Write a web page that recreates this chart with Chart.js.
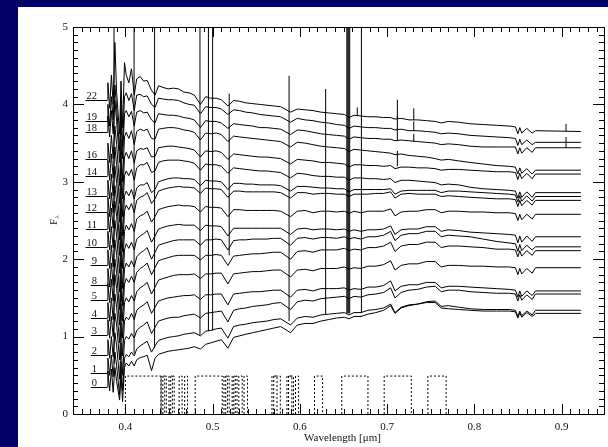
<!DOCTYPE html>
<html><head><meta charset="utf-8">
<script src="https://cdn.jsdelivr.net/npm/chart.js@4.4.0/dist/chart.umd.min.js"></script>
<style>html,body{margin:0;padding:0;background:#000066;overflow:hidden}#wrap{width:608px;height:447px}</style>
</head><body><div id="wrap"><canvas id="c" width="608" height="447"></canvas></div>
<script>
// ---- data (wavelength in micron, flux F_lambda with offsets as plotted) ----
const wavelength = [
0.3795,0.3800,0.382,0.384,0.386,0.388,0.390,0.3934,0.395,0.3968,
0.399,0.401,0.404,0.407,0.4102,0.413,0.417,0.421,0.425,0.430,
0.434,0.438,0.443,0.449,0.455,0.461,0.467,0.473,0.479,0.4861,
0.492,0.498,0.504,0.510,0.5175,0.524,0.531,0.538,0.546,0.554,
0.562,0.570,0.578,0.5893,0.597,0.606,0.615,0.624,0.633,0.642,
0.651,0.6563,0.662,0.670,0.678,0.687,0.696,0.704,0.709,0.716,
0.725,0.735,0.745,0.755,0.762,0.770,0.782,0.795,0.810,0.825,
0.840,0.847,0.8498,0.852,0.8542,0.860,0.8662,0.870,0.922];

const spectrumLabels = ['22','19','18','16','14','13','12','11','10','9','8','5','4','3','2','1','0'];
const labelLevels = [4.06,3.78,3.64,3.29,3.08,2.82,2.61,2.39,2.16,1.92,1.67,1.47,1.24,1.02,0.76,0.53,0.35];

const flux22 = [4.06,4.28,3.95,4.38,4.00,4.80,4.15,3.62,4.30,3.70,
4.54,4.38,4.28,4.46,4.12,4.33,4.36,4.30,4.31,4.18,
4.12,4.24,4.22,4.20,4.21,4.20,4.16,4.15,4.12,4.00,
4.10,4.08,4.08,4.06,3.98,4.05,4.04,4.02,4.01,4.00,
3.99,3.98,3.97,3.90,3.94,3.93,3.92,3.90,3.89,3.88,
3.87,3.83,3.86,3.85,3.84,3.84,3.83,3.83,3.81,3.82,
3.80,3.80,3.79,3.78,3.76,3.78,3.77,3.75,3.74,3.73,
3.72,3.71,3.62,3.70,3.63,3.69,3.63,3.66,3.65];
const flux19 = [3.78,4.00,3.72,4.10,3.80,4.25,3.95,3.40,4.05,3.45,
4.10,4.15,4.05,4.14,3.92,4.12,4.13,4.10,4.11,4.00,
3.96,4.08,4.07,4.06,4.06,4.05,4.02,4.00,3.99,3.88,
3.97,3.96,3.96,3.94,3.87,3.93,3.92,3.90,3.89,3.87,
3.86,3.85,3.84,3.77,3.82,3.80,3.79,3.77,3.76,3.74,
3.73,3.69,3.72,3.71,3.70,3.70,3.69,3.69,3.67,3.68,
3.66,3.66,3.65,3.64,3.62,3.63,3.62,3.60,3.59,3.58,
3.57,3.56,3.47,3.55,3.48,3.54,3.48,3.51,3.51];
const flux18 = [3.64,3.85,3.58,3.92,3.62,4.05,3.78,3.25,3.85,3.30,
3.88,3.92,3.84,3.91,3.72,3.90,3.92,3.89,3.90,3.80,
3.76,3.88,3.87,3.86,3.86,3.85,3.83,3.82,3.80,3.70,
3.79,3.78,3.78,3.76,3.69,3.75,3.74,3.73,3.72,3.70,
3.70,3.69,3.68,3.61,3.67,3.66,3.64,3.62,3.61,3.60,
3.59,3.55,3.58,3.57,3.56,3.56,3.55,3.55,3.53,3.54,
3.53,3.52,3.51,3.50,3.48,3.49,3.48,3.46,3.45,3.45,
3.45,3.45,3.36,3.44,3.37,3.44,3.38,3.44,3.44];
const flux16 = [3.29,3.50,3.25,3.60,3.30,3.72,3.48,2.95,3.55,3.00,
3.58,3.64,3.56,3.66,3.48,3.65,3.68,3.66,3.68,3.56,
3.55,3.68,3.69,3.70,3.70,3.69,3.67,3.66,3.64,3.54,
3.63,3.62,3.63,3.61,3.52,3.59,3.58,3.57,3.56,3.55,
3.54,3.53,3.52,3.45,3.51,3.50,3.48,3.46,3.45,3.44,
3.43,3.39,3.42,3.41,3.40,3.39,3.38,3.37,3.35,3.36,
3.34,3.33,3.32,3.30,3.28,3.29,3.27,3.25,3.23,3.21,
3.20,3.19,3.10,3.18,3.11,3.17,3.10,3.15,3.15];
const flux14 = [3.08,3.28,3.02,3.36,3.05,3.45,3.22,2.72,3.30,2.78,
3.32,3.38,3.30,3.40,3.24,3.40,3.43,3.42,3.44,3.32,
3.33,3.44,3.45,3.46,3.46,3.45,3.44,3.43,3.41,3.32,
3.40,3.39,3.40,3.38,3.29,3.36,3.35,3.34,3.33,3.32,
3.32,3.31,3.30,3.23,3.29,3.28,3.27,3.25,3.25,3.24,
3.23,3.19,3.22,3.22,3.21,3.21,3.20,3.21,3.17,3.19,
3.19,3.18,3.18,3.17,3.15,3.16,3.16,3.15,3.14,3.13,
3.13,3.12,3.03,3.11,3.04,3.11,3.04,3.10,3.10];
const flux13 = [2.82,3.02,2.78,3.10,2.82,3.20,2.98,2.48,3.05,2.55,
3.08,3.14,3.08,3.16,3.02,3.18,3.22,3.22,3.25,3.12,
3.14,3.25,3.27,3.28,3.28,3.28,3.27,3.26,3.24,3.15,
3.23,3.22,3.22,3.20,3.11,3.18,3.17,3.16,3.15,3.14,
3.14,3.13,3.12,3.05,3.11,3.10,3.08,3.07,3.07,3.06,
3.06,3.02,3.05,3.05,3.04,3.04,3.03,3.04,2.99,3.02,
3.02,3.01,3.00,2.99,2.96,2.97,2.96,2.93,2.91,2.90,
2.89,2.88,2.79,2.87,2.80,2.87,2.80,2.86,2.86];
const flux12 = [2.61,2.80,2.55,2.86,2.60,2.95,2.74,2.25,2.80,2.30,
2.82,2.88,2.82,2.90,2.78,2.92,2.96,2.96,2.99,2.86,
2.90,3.00,3.02,3.04,3.05,3.05,3.04,3.04,3.03,2.95,
3.02,3.01,3.01,3.00,2.90,2.98,2.98,2.97,2.97,2.96,
2.96,2.96,2.95,2.88,2.94,2.94,2.93,2.92,2.92,2.91,
2.91,2.87,2.90,2.90,2.90,2.90,2.90,2.91,2.84,2.88,
2.89,2.89,2.89,2.89,2.86,2.88,2.88,2.87,2.86,2.85,
2.84,2.83,2.74,2.82,2.75,2.82,2.75,2.81,2.81];
const flux11 = [2.39,2.60,2.35,2.66,2.40,2.75,2.55,2.05,2.60,2.10,
2.62,2.70,2.64,2.72,2.60,2.76,2.80,2.82,2.86,2.72,
2.78,2.88,2.90,2.92,2.93,2.94,2.93,2.93,2.92,2.85,
2.92,2.91,2.91,2.90,2.80,2.88,2.88,2.87,2.87,2.87,
2.87,2.87,2.86,2.79,2.86,2.86,2.84,2.85,2.85,2.84,
2.84,2.81,2.84,2.84,2.84,2.85,2.85,2.87,2.79,2.84,
2.85,2.84,2.84,2.84,2.81,2.82,2.81,2.80,2.79,2.78,
2.78,2.77,2.68,2.76,2.69,2.76,2.70,2.76,2.76];
const flux10 = [2.16,2.36,2.12,2.42,2.15,2.50,2.30,1.82,2.35,1.88,
2.36,2.44,2.38,2.46,2.36,2.52,2.56,2.58,2.62,2.48,
2.55,2.64,2.66,2.68,2.69,2.70,2.69,2.69,2.68,2.61,
2.68,2.67,2.67,2.66,2.55,2.64,2.64,2.63,2.63,2.63,
2.63,2.63,2.62,2.55,2.62,2.63,2.60,2.62,2.62,2.61,
2.62,2.59,2.62,2.60,2.62,2.62,2.62,2.65,2.56,2.61,
2.62,2.62,2.64,2.64,2.60,2.62,2.62,2.61,2.61,2.60,
2.60,2.59,2.50,2.58,2.51,2.58,2.52,2.58,2.58];
const flux9 = [1.92,2.12,1.88,2.18,1.90,2.25,2.05,1.58,2.10,1.62,
2.12,2.20,2.14,2.22,2.12,2.26,2.30,2.33,2.37,2.22,
2.30,2.39,2.41,2.43,2.44,2.45,2.44,2.44,2.44,2.37,
2.44,2.43,2.43,2.42,2.30,2.40,2.40,2.40,2.40,2.40,
2.40,2.40,2.40,2.32,2.39,2.40,2.38,2.39,2.39,2.38,
2.39,2.36,2.38,2.36,2.38,2.38,2.39,2.43,2.32,2.38,
2.39,2.39,2.42,2.42,2.36,2.38,2.37,2.35,2.34,2.33,
2.32,2.31,2.21,2.30,2.22,2.30,2.23,2.29,2.29];
const flux8 = [1.67,1.88,1.64,1.95,1.66,2.00,1.82,1.35,1.86,1.40,
1.88,1.95,1.90,1.98,1.90,2.03,2.08,2.11,2.15,2.00,
2.09,2.18,2.20,2.22,2.24,2.25,2.25,2.25,2.25,2.18,
2.25,2.25,2.26,2.25,2.12,2.24,2.25,2.25,2.26,2.26,
2.26,2.27,2.27,2.18,2.27,2.28,2.26,2.28,2.28,2.27,
2.29,2.26,2.28,2.26,2.29,2.29,2.31,2.36,2.24,2.31,
2.33,2.33,2.36,2.36,2.29,2.31,2.30,2.29,2.26,2.23,
2.21,2.20,2.10,2.19,2.11,2.18,2.12,2.16,2.16];
const flux5 = [1.47,1.68,1.44,1.74,1.46,1.80,1.62,1.15,1.66,1.20,
1.68,1.75,1.70,1.78,1.70,1.83,1.88,1.91,1.95,1.80,
1.89,1.98,2.00,2.02,2.04,2.05,2.05,2.05,2.05,1.99,
2.05,2.05,2.06,2.05,1.92,2.04,2.05,2.06,2.07,2.07,
2.08,2.09,2.09,2.00,2.10,2.11,2.09,2.12,2.12,2.12,
2.14,2.11,2.13,2.12,2.15,2.15,2.17,2.22,2.10,2.17,
2.19,2.19,2.22,2.22,2.15,2.17,2.17,2.16,2.15,2.13,
2.13,2.12,2.03,2.11,2.04,2.11,2.05,2.11,2.11];
const flux4 = [1.24,1.44,1.20,1.50,1.22,1.55,1.38,0.92,1.42,0.98,
1.44,1.50,1.45,1.53,1.46,1.58,1.63,1.66,1.70,1.55,
1.64,1.73,1.75,1.77,1.79,1.80,1.80,1.80,1.81,1.75,
1.81,1.81,1.82,1.82,1.68,1.81,1.82,1.83,1.84,1.84,
1.85,1.86,1.86,1.77,1.86,1.87,1.85,1.88,1.88,1.88,
1.90,1.87,1.89,1.88,1.91,1.91,1.93,1.98,1.86,1.92,
1.94,1.94,1.97,1.97,1.90,1.92,1.92,1.91,1.91,1.90,
1.90,1.89,1.80,1.88,1.81,1.88,1.82,1.89,1.89];
const flux3 = [1.02,1.22,0.98,1.26,1.00,1.30,1.15,0.70,1.18,0.75,
1.20,1.25,1.22,1.30,1.22,1.34,1.38,1.41,1.45,1.30,
1.38,1.46,1.48,1.50,1.51,1.52,1.53,1.53,1.54,1.48,
1.54,1.54,1.55,1.55,1.41,1.55,1.56,1.57,1.58,1.58,
1.59,1.60,1.60,1.51,1.60,1.61,1.59,1.62,1.62,1.62,
1.63,1.60,1.62,1.61,1.64,1.64,1.66,1.72,1.59,1.65,
1.67,1.67,1.70,1.70,1.63,1.65,1.65,1.64,1.63,1.62,
1.61,1.60,1.51,1.59,1.52,1.59,1.53,1.59,1.59];
const flux2 = [0.76,0.96,0.72,1.00,0.74,1.05,0.88,0.45,0.92,0.50,
0.95,1.00,0.97,1.04,0.98,1.08,1.12,1.15,1.19,1.04,
1.12,1.20,1.22,1.24,1.25,1.25,1.27,1.28,1.29,1.24,
1.30,1.31,1.32,1.33,1.19,1.34,1.36,1.37,1.39,1.40,
1.41,1.43,1.44,1.35,1.45,1.47,1.46,1.49,1.50,1.51,
1.52,1.49,1.52,1.51,1.54,1.55,1.57,1.63,1.50,1.57,
1.60,1.61,1.64,1.65,1.58,1.60,1.60,1.58,1.57,1.56,
1.56,1.55,1.46,1.54,1.47,1.54,1.48,1.55,1.55];
const flux1 = [0.53,0.72,0.50,0.76,0.48,0.80,0.62,0.25,0.68,0.30,
0.72,0.77,0.74,0.80,0.75,0.84,0.88,0.91,0.94,0.80,
0.88,0.95,0.97,0.99,1.00,1.01,1.03,1.04,1.05,1.01,
1.07,1.08,1.10,1.11,0.98,1.13,1.15,1.16,1.18,1.19,
1.20,1.22,1.23,1.15,1.24,1.26,1.25,1.28,1.29,1.30,
1.31,1.28,1.31,1.31,1.34,1.35,1.37,1.42,1.31,1.38,
1.41,1.42,1.45,1.46,1.39,1.40,1.38,1.36,1.35,1.35,
1.35,1.34,1.26,1.33,1.27,1.33,1.28,1.34,1.34];
const flux0 = [0.35,0.55,0.30,0.58,0.28,0.60,0.42,0.18,0.50,0.16,
0.60,0.66,0.62,0.68,0.62,0.70,0.73,0.74,0.76,0.56,
0.72,0.77,0.79,0.81,0.82,0.83,0.84,0.85,0.87,0.84,
0.90,0.92,0.94,0.96,0.85,0.99,1.01,1.03,1.05,1.07,
1.09,1.11,1.13,1.05,1.15,1.17,1.17,1.20,1.22,1.24,
1.25,1.23,1.26,1.26,1.29,1.31,1.34,1.40,1.30,1.37,
1.40,1.42,1.44,1.44,1.37,1.36,1.35,1.34,1.33,1.33,
1.33,1.32,1.24,1.31,1.25,1.31,1.26,1.30,1.30];

const spectra = [flux22,flux19,flux18,flux16,flux14,flux13,flux12,flux11,flux10,flux9,flux8,flux5,flux4,flux3,flux2,flux1,flux0];

// emission-line spikes: wavelength, continuum level at the line, peak level
const spikeLambda = [0.3870,0.4100,0.4335,0.4855,0.4952,0.5000,0.5190,0.5876,0.6295,0.6538,0.6549,0.6560,0.6571,0.6705,
                     0.6658,0.7117,0.7117,0.7117,0.7117,0.7305,0.7305,0.7305,0.9050,0.9050,0.9050];
const spikeBase   = [0.65,0.78,0.85,1.02,1.07,1.08,2.05,1.20,1.28,1.30,1.30,1.30,1.30,1.31,
                     3.85,3.82,3.68,3.54,3.20,3.80,3.66,3.52,3.65,3.51,3.44];
const spikeTop    = [5.5,5.5,5.5,5.5,5.5,5.5,4.14,4.37,4.20,5.5,5.5,5.5,5.5,5.5,
                     3.96,4.06,3.85,3.70,3.40,3.95,3.78,3.62,3.75,3.58,3.50];

// filter transmission boxes (dotted)
const filterStart = [0.400,0.4408,0.4430,0.4500,0.4520,0.4617,0.4680,0.480,0.5130,0.5150,0.5224,0.5243,0.5300,0.5360,0.568,0.570,0.5852,0.5870,0.5950,0.6168,0.648,0.6966,0.7467];
const filterEnd   = [0.441,0.4450,0.4470,0.4540,0.4560,0.4650,0.4712,0.511,0.5170,0.5190,0.5260,0.5280,0.5339,0.5400,0.5738,0.5776,0.5908,0.5927,0.5985,0.626,0.678,0.7277,0.7676];
const filterLevel = 0.49;

const xTickValues = [0.4,0.5,0.6,0.7,0.8,0.9];
const xTickLabels = ['0.4','0.5','0.6','0.7','0.8','0.9'];
const yTickValues = [0,1,2,3,4,5];
const yTickLabels = ['0','1','2','3','4','5'];

// ---- build datasets ----
spectra.forEach((s,i)=>{ if(s.length!==wavelength.length) throw new Error('length mismatch spectrum '+spectrumLabels[i]+': '+s.length); });

const datasets = spectra.map((s,i)=>({
  label: spectrumLabels[i],
  data: wavelength.map((w,j)=>({x:w,y:s[j]})),
  borderColor:'#000', borderWidth:1, pointRadius:0, showLine:true, tension:0
}));
const spikeData = [];
spikeLambda.forEach((w,i)=>{ spikeData.push({x:w,y:spikeBase[i]},{x:w,y:spikeTop[i]},{x:w,y:null}); });
datasets.push({label:'lines',data:spikeData,borderColor:'#000',borderWidth:1,pointRadius:0,showLine:true,spanGaps:false});
const filterData = [];
filterStart.forEach((a,i)=>{ const b=filterEnd[i];
  filterData.push({x:a,y:0},{x:a,y:filterLevel},{x:b,y:filterLevel},{x:b,y:0},{x:b,y:null}); });
datasets.push({label:'filters',data:filterData,borderColor:'#000',borderWidth:1,borderDash:[2,2],pointRadius:0,showLine:true,spanGaps:false});

const SERIF = '"Liberation Serif","DejaVu Serif",serif';

const decor = {
  id:'decor',
  beforeDraw(chart){
    const c=chart.ctx;
    c.save();
    c.fillStyle='#000066'; c.fillRect(0,0,chart.width,chart.height);
    c.fillStyle='#ffffff'; c.fillRect(18,7,chart.width-18,chart.height-7);
    c.restore();
  },
  afterDraw(chart){
    const c=chart.ctx, a=chart.chartArea, xs=chart.scales.x, ys=chart.scales.y;
    c.save();
    c.strokeStyle='#000'; c.lineWidth=1; c.fillStyle='#111';
    c.strokeRect(Math.round(a.left)+0.5,Math.round(a.top)+0.5,Math.round(a.right-a.left),Math.round(a.bottom-a.top));
    c.beginPath();
    // x minor / major ticks
    for(let k=34;k<=94;k++){
      const v=k/100, px=Math.round(xs.getPixelForValue(v))+0.5;
      if(px<=a.left+1||px>=a.right-1) continue;
      const L=(k%10===0)?10:5;
      c.moveTo(px,a.bottom); c.lineTo(px,a.bottom-L);
      c.moveTo(px,a.top); c.lineTo(px,a.top+L);
    }
    for(let k=0;k<=50;k++){
      const v=k/10, py=Math.round(ys.getPixelForValue(v))+0.5;
      const L=(k%10===0)?11:5;
      c.moveTo(a.left,py); c.lineTo(a.left+L,py);
      c.moveTo(a.right,py); c.lineTo(a.right-L,py);
    }
    c.stroke();
    c.font='11px '+SERIF; c.textAlign='center'; c.textBaseline='middle';
    xTickValues.forEach((v,i)=>c.fillText(xTickLabels[i],xs.getPixelForValue(v),a.bottom+13));
    c.textAlign='right';
    yTickValues.forEach((v,i)=>c.fillText(yTickLabels[i],a.left-5,ys.getPixelForValue(v)));
    c.textAlign='center';
    c.fillText('Wavelength [\u03bcm]',(a.left+a.right)/2+4,a.bottom+24);
    // y title F_lambda
    c.save(); c.translate(54,220); c.rotate(-Math.PI/2);
    c.font='10px '+SERIF; c.textAlign='center'; c.fillText('F',-2,0);
    c.font='7px '+SERIF; c.fillText('\u03bb',3,3);
    c.restore();
    // spectrum labels with leader lines
    c.font='10.5px '+SERIF; c.textAlign='right'; c.textBaseline='alphabetic';
    c.beginPath();
    const xEnd=xs.getPixelForValue(wavelength[0]);
    spectrumLabels.forEach((t,i)=>{
      const py=Math.round(ys.getPixelForValue(labelLevels[i]))+0.5;
      c.fillText(t,97,py-1.5);
      const w=c.measureText(t).width;
      c.moveTo(97-w-1,py); c.lineTo(xEnd,py);
    });
    c.stroke();
    c.restore();
  }
};

new Chart(document.getElementById('c'),{
  type:'scatter',
  data:{datasets},
  options:{
    responsive:false, animation:false, devicePixelRatio:1,
    layout:{padding:{left:73,top:27,right:4,bottom:33}},
    plugins:{legend:{display:false},tooltip:{enabled:false}},
    scales:{
      x:{type:'linear',min:0.34,max:0.9485,display:false},
      y:{type:'linear',min:0,max:5,display:false}
    },
    elements:{line:{borderJoinStyle:'miter'}}
  },
  plugins:[decor]
});
</script></body></html>
